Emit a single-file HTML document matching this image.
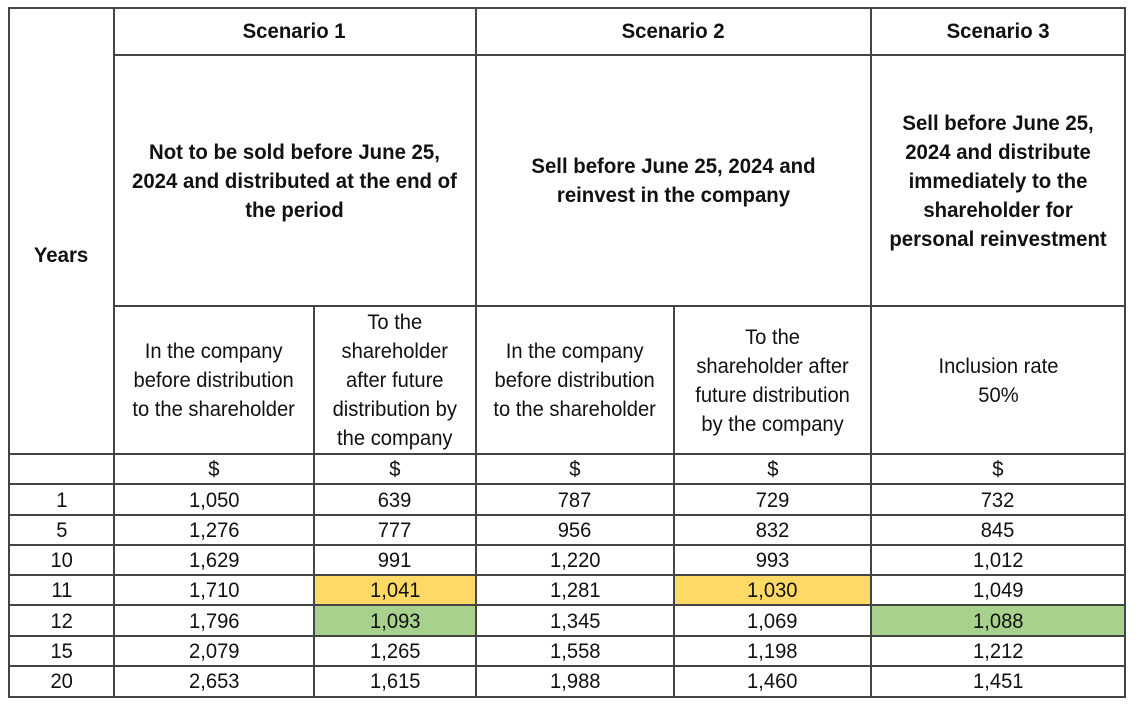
<!DOCTYPE html><html><head><style>
body{margin:0;background:#fff;width:1140px;height:711px;position:relative;overflow:hidden;font-family:"Liberation Sans",sans-serif;color:#111}
.h,.v{position:absolute;background:#444}
.h{height:2px}.v{width:2px}
.c{position:absolute;display:flex;align-items:center;justify-content:center;text-align:center;font-size:21px;line-height:29px;white-space:nowrap}
.c span{display:inline-block;transform:scaleX(.96)}
.b{font-weight:bold;font-size:21px}
.c.b span{transform:scaleX(.97)}
.bg{position:absolute}
</style></head><body>
<div class="bg" style="left:315px;top:576px;width:161px;height:29px;background:#ffd966"></div>
<div class="bg" style="left:675px;top:576px;width:196px;height:29px;background:#ffd966"></div>
<div class="bg" style="left:315px;top:606px;width:161px;height:30px;background:#a9d18e"></div>
<div class="bg" style="left:872px;top:606px;width:253px;height:30px;background:#a9d18e"></div>

<div class="h" style="left:9px;width:1117px;top:7px"></div>
<div class="h" style="left:114px;width:1012px;top:54px"></div>
<div class="h" style="left:114px;width:1012px;top:305px"></div>
<div class="h" style="left:9px;width:1117px;top:453px"></div>
<div class="h" style="left:9px;width:1117px;top:483px"></div>
<div class="h" style="left:9px;width:1117px;top:514px"></div>
<div class="h" style="left:9px;width:1117px;top:544px"></div>
<div class="h" style="left:9px;width:1117px;top:574px"></div>
<div class="h" style="left:9px;width:1117px;top:604px"></div>
<div class="h" style="left:9px;width:1117px;top:635px"></div>
<div class="h" style="left:9px;width:1117px;top:665px"></div>
<div class="h" style="left:9px;width:1117px;top:696px"></div>
<div class="v" style="left:8px;top:7px;height:691px"></div>
<div class="v" style="left:113px;top:7px;height:691px"></div>
<div class="v" style="left:313px;top:305px;height:393px"></div>
<div class="v" style="left:475px;top:7px;height:691px"></div>
<div class="v" style="left:673px;top:305px;height:393px"></div>
<div class="v" style="left:870px;top:7px;height:691px"></div>
<div class="v" style="left:1124px;top:7px;height:691px"></div>

<div class="c b" style="left:114px;top:8px;width:361px;height:47px"><span>Scenario 1</span></div>
<div class="c b" style="left:476px;top:8px;width:395px;height:47px"><span>Scenario 2</span></div>
<div class="c b" style="left:871px;top:8px;width:254px;height:47px"><span>Scenario 3</span></div>
<div class="c b" style="left:9px;top:56px;width:104px;height:398px"><span>Years</span></div>
<div class="c b" style="left:114px;top:56px;width:361px;height:250px"><span>Not to be sold before June 25,<br>2024 and distributed at the end of<br>the period</span></div>
<div class="c b" style="left:476px;top:56px;width:395px;height:250px"><span>Sell before June 25, 2024 and<br>reinvest in the company</span></div>
<div class="c b" style="left:871px;top:56px;width:254px;height:250px"><span>Sell before June 25,<br>2024 and distribute<br>immediately to the<br>shareholder for<br>personal reinvestment</span></div>
<div class="c" style="left:114px;top:307px;width:200px;height:147px"><span>In the company<br>before distribution<br>to the shareholder</span></div>
<div class="c" style="left:315px;top:307px;width:160px;height:147px"><span>To the<br>shareholder<br>after future<br>distribution by<br>the company</span></div>
<div class="c" style="left:476px;top:307px;width:198px;height:147px"><span>In the company<br>before distribution<br>to the shareholder</span></div>
<div class="c" style="left:675px;top:307px;width:196px;height:147px"><span>To the<br>shareholder after<br>future distribution<br>by the company</span></div>
<div class="c" style="left:871px;top:307px;width:254px;height:147px"><span>Inclusion rate<br>50%</span></div>

<div id="rows"></div>
<script>
var data=[["","$","$","$","$","$"],["1","1,050","639","787","729","732"],["5","1,276","777","956","832","845"],["10","1,629","991","1,220","993","1,012"],["11","1,710","1,041","1,281","1,030","1,049"],["12","1,796","1,093","1,345","1,069","1,088"],["15","2,079","1,265","1,558","1,198","1,212"],["20","2,653","1,615","1,988","1,460","1,451"]];
var ys=[455,485,516,546,576,606,637,667,697],xs=[9,114,314,476,674,871,1125],h="";
data.forEach(function(r,i){r.forEach(function(t,j){h+='<div class="c" style="left:'+xs[j]+'px;top:'+ys[i]+'px;width:'+(xs[j+1]-xs[j])+'px;height:'+(ys[i+1]-ys[i]-1)+'px"><span>'+t+'</span></div>';});});
document.getElementById('rows').innerHTML=h;
</script>
</body></html>
